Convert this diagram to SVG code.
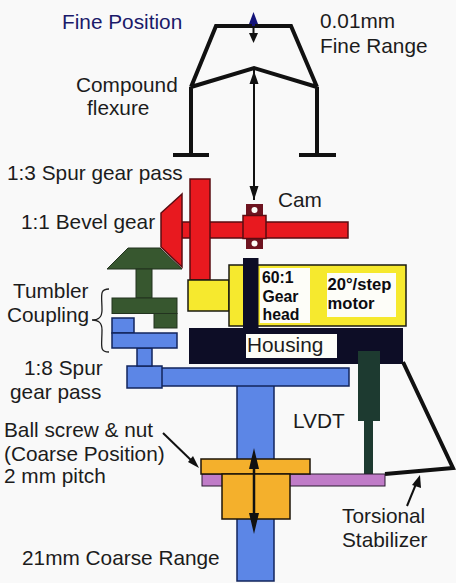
<svg xmlns="http://www.w3.org/2000/svg" width="456" height="583" viewBox="0 0 456 583">
<style>
text{font-family:"Liberation Sans",Arial,sans-serif;font-size:20.8px;fill:#1c1c1c}
.b{font-weight:bold;font-size:15.8px;fill:#0c0c10}
.m{font-weight:bold;font-size:16.6px;fill:#0c0c10}
.k{stroke:#111;fill:none;stroke-width:4}
.l{stroke:#111;fill:none;stroke-width:2}
.r{fill:#e8191f;stroke:#5a0d12;stroke-width:1.5}
.y{fill:#f6e92e;stroke:#1a1a10;stroke-width:1.5}
.g{fill:#37572f;stroke:#22331f;stroke-width:1}
.u{fill:#5c86e6;stroke:#12255c;stroke-width:1.5}
.o{fill:#f4b02c;stroke:#1c1408;stroke-width:1.5}
.n{fill:#0d0d26}
.w{fill:#fdfdf8}
.h{fill:#111}
</style>
<rect width="456" height="583" fill="#f9f9f9"/>
<g id="flexure">
<path class="k" d="M191 87L216 26H291L317 87M191 87L254 68L317 87M191 87V155M317 87V155"/>
<path class="k" d="M173 155H209M299 155H336"/>
</g>
<g id="blue-shaft">
<rect class="u" x="237" y="385" width="37" height="196"/>
<rect class="u" x="161" y="368" width="188" height="18"/>
<rect class="u" x="127" y="366" width="35" height="22"/>
<rect class="u" x="137" y="348" width="15" height="18"/>
</g>
<g id="tumbler-coupling">
<rect class="u" x="112" y="318" width="22" height="15"/>
<rect class="u" x="112" y="333" width="65" height="15"/>
<path class="g" d="M128 248H160L182 269H107Z"/>
<rect class="g" x="136" y="269" width="16" height="29"/>
<rect class="g" x="112" y="298" width="65" height="15.500"/>
<rect class="g" x="154" y="313.500" width="23" height="14.500"/>
</g>
<g id="spur-gear">
<rect class="r" x="182" y="222" width="166" height="16"/>
<path class="r" d="M182 194L161 213V247L182 267Z"/>
<rect class="r" x="190" y="179" width="20" height="101"/>
</g>
<g id="cam">
<rect x="246" y="204" width="17" height="45" fill="#6e1420"/>
<circle class="w" cx="254.500" cy="210" r="3"/>
<circle class="w" cx="254.500" cy="243.500" r="3"/>
<rect class="r" x="243" y="215.500" width="23" height="23"/>
</g>
<g id="motor">
<rect class="y" x="188" y="280" width="41" height="31"/>
<rect class="y" x="229" y="265" width="177" height="61"/>
<rect class="w" x="260" y="268" width="50" height="55"/>
<rect class="w" x="327" y="273" width="69" height="44"/>
<text class="b" x="262" y="283">60:1</text>
<text class="b" x="262.500" y="302">Gear</text>
<text class="b" x="262.500" y="320">head</text>
<text class="m" x="327.500" y="290">20°/step</text>
<text class="m" x="327.500" y="309">motor</text>
</g>
<g id="housing">
<rect class="n" x="189" y="328" width="214" height="36"/>
<rect class="n" x="243" y="258" width="15.500" height="72"/>
<rect class="w" x="246" y="334" width="91" height="24"/>
<text x="247" y="352">Housing</text>
</g>
<g id="lvdt">
<rect x="358" y="351" width="22" height="70" fill="#1d3a30"/>
<rect x="364" y="421" width="9" height="53" fill="#1d3a30"/>
<text x="293" y="428">LVDT</text>
</g>
<g id="nut">
<rect x="202" y="474" width="183" height="12" fill="#c07cc8" stroke="#2a1a30" stroke-width="1"/>
<rect class="o" x="201" y="459" width="109" height="15"/>
<rect class="o" x="222" y="474" width="68" height="45"/>
</g>
<g id="connectors">
<path d="M403 362L453 468L385 474" fill="none" stroke="#111" stroke-width="4"/>
<path class="l" d="M254 68V200"/>
<path class="h" d="M254 71L258.500 84H249.500ZM254 200L249.500 186H258.500Z"/>
<path class="l" d="M253.500 26V36"/>
<path d="M253.500 12L258 24H249Z" fill="#14147a"/><path d="M253.500 24V26" stroke="#14147a" stroke-width="3"/>
<path class="h" d="M253.500 43L249 33H258Z"/>
<path d="M254 462V520" stroke="#111" stroke-width="2.500"/>
<path class="h" d="M254 448L259 469H249ZM254 534L249 513H259Z"/>
<path class="l" d="M163 433L194 463"/><path class="h" d="M199 468L188 462L193 456Z"/>
<path class="l" d="M407 506L416 484"/><path class="h" d="M420 475L421 488L412 485Z"/>
<path d="M109 289C99 289 102 296 102 310C102 318 98 320 92 320C98 320 102 322 102 330C102 346 99 352 109 352" fill="none" stroke="#222" stroke-width="1.300"/>
</g>
<g id="labels">
<text x="62" y="29" style="fill:#1a1a6a">Fine Position</text>
<text x="320" y="28">0.01mm</text>
<text x="320" y="53">Fine Range</text>
<text x="76" y="92">Compound</text>
<text x="87" y="115">flexure</text>
<text x="7" y="180">1:3 Spur gear pass</text>
<text x="278" y="207">Cam</text>
<text x="21" y="229">1:1 Bevel gear</text>
<text x="13" y="298">Tumbler</text>
<text x="7" y="322">Coupling</text>
<text x="24" y="375">1:8 Spur</text>
<text x="10" y="399">gear pass</text>
<text x="4" y="437">Ball screw &amp; nut</text>
<text x="4" y="461">(Coarse Position)</text>
<text x="4" y="483">2 mm pitch</text>
<text x="22" y="565">21mm Coarse Range</text>
<text x="342" y="523">Torsional</text>
<text x="342" y="547">Stabilizer</text>
</g>
</svg>
